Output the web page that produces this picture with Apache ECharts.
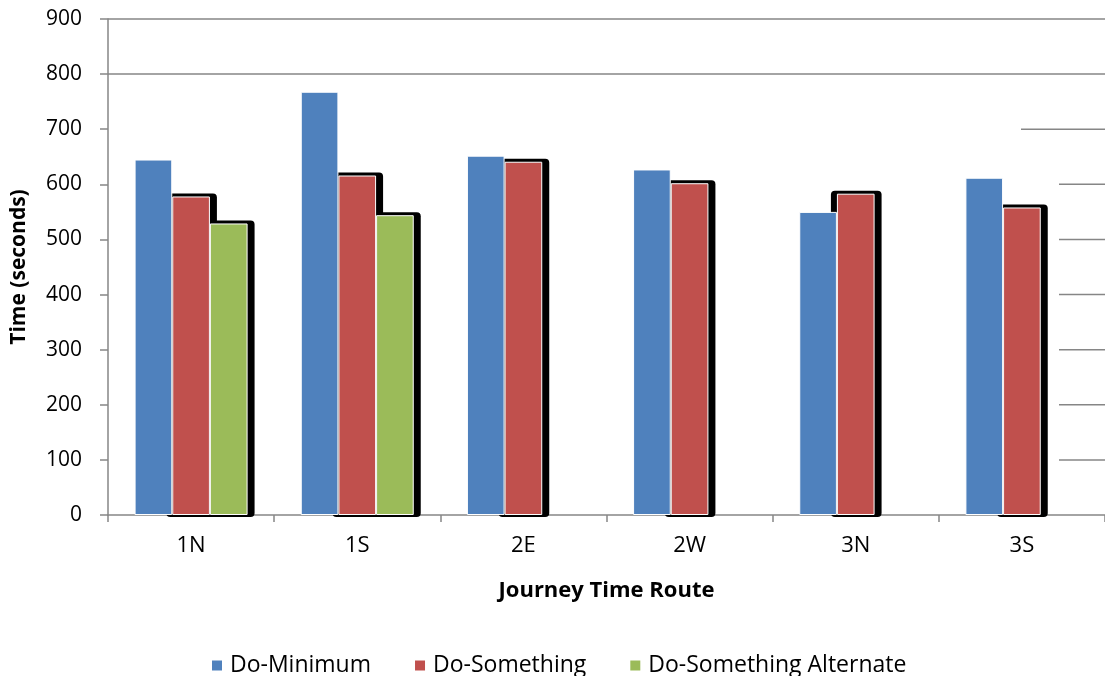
<!DOCTYPE html>
<html>
<head>
<meta charset="utf-8">
<script src="https://cdn.jsdelivr.net/npm/echarts@6/dist/echarts.min.js"></script>
<style>
  html, body { margin: 0; padding: 0; background: #fff; }
  #chart { width: 1105px; height: 676px; }
</style>
</head>
<body>
<div id="chart"></div>
<script>
// Journey times per route (seconds)
const routes = ['1N', '1S', '2E', '2W', '3N', '3S'];
const doMinimum = [645, 768, 652, 627, 550, 612];
const doSomething = [578, 616, 641, 602, 583, 558];
const doSomethingAlt = [529, 544, null, null, null, null];
const seriesNames = ['Do-Minimum', 'Do-Something', 'Do-Something Alternate'];
const yTicks = [0, 100, 200, 300, 400, 500, 600, 700, 800, 900];

const colors = ['#4F81BD', '#C0504D', '#9BBB59'];
const FONT = 'Open Sans';
const CAT_GAP = 0.32;
const seriesData = [doMinimum, doSomething, doSomethingAlt];

const chart = echarts.init(document.getElementById('chart'), null, { renderer: 'canvas' });

// Solid drop shadow behind a series' bars, sharing the bar slot layout
function shadowSeries(idx) {
  return {
    type: 'custom',
    z: 1,
    silent: true,
    encode: { x: 0, y: 1 },
    data: seriesData[idx].map((v, i) => [i, v == null ? '-' : v]),
    renderItem: function (params, api) {
      const v = api.value(1);
      if (v === '-' || v == null || isNaN(v)) return null;
      const cat = api.value(0);
      const base = api.coord([cat, 0]);
      const top = api.coord([cat, v]);
      const band = api.size([1, 0])[0];
      const w = band * (1 - CAT_GAP) / 3;
      const x = base[0] - 1.5 * w + idx * w;
      return {
        type: 'rect',
        shape: { x: x - 6, y: top[1] - 3, width: w + 13, height: base[1] - top[1] + 5, r: 4 },
        style: { fill: '#000' }
      };
    }
  };
}

const barSeries = seriesNames.map((name, idx) => ({
  name: name,
  type: 'bar',
  z: 2,
  barGap: '0%',
  barCategoryGap: (CAT_GAP * 100) + '%',
  data: seriesData[idx].map(v => (v == null ? '-' : v)),
  itemStyle: { color: colors[idx], borderColor: '#ffffff', borderWidth: 1 }
}));

// Only the upper grid lines run across the whole plot
const gridColors = yTicks.map(t => (t >= 800 ? '#868686' : 'rgba(0,0,0,0)'));

const option = {
  animation: false,
  backgroundColor: '#ffffff',
  color: colors,
  textStyle: { fontFamily: FONT },
  grid: { left: 108, right: 0, top: 19, bottom: 161, containLabel: false, outerBoundsMode: 'none' },
  legend: {
    data: seriesNames,
    top: 649,
    left: 205,
    icon: 'rect',
    itemWidth: 12,
    itemHeight: 12,
    itemGap: 42,
    textStyle: { fontFamily: FONT, fontSize: 23, color: '#000', padding: [0, 0, 0, 2] }
  },
  xAxis: {
    type: 'category',
    data: routes,
    name: 'Journey Time Route',
    nameLocation: 'middle',
    nameGap: 65,
    nameTextStyle: { fontFamily: FONT, fontSize: 22, fontWeight: 'bold', color: '#000' },
    axisLine: { lineStyle: { color: '#868686', width: 1.5 } },
    axisTick: { show: true, length: 7, lineStyle: { color: '#868686', width: 1.5 } },
    axisLabel: { margin: 20, fontFamily: FONT, fontSize: 22, color: '#000' },
    splitLine: { show: false }
  },
  yAxis: {
    type: 'value',
    min: yTicks[0],
    max: yTicks[yTicks.length - 1],
    interval: 100,
    name: 'Time (seconds)',
    nameLocation: 'middle',
    nameGap: 78,
    nameTextStyle: { fontFamily: FONT, fontSize: 21, fontWeight: 'bold', color: '#000' },
    axisLine: { show: true, lineStyle: { color: '#868686', width: 1.5 } },
    axisTick: { show: true, length: 8, lineStyle: { color: '#868686', width: 1.5 } },
    axisLabel: { margin: 26, fontFamily: FONT, fontSize: 21, color: '#000' },
    splitLine: { show: true, lineStyle: { color: gridColors, width: 1.5 } }
  },
  series: [shadowSeries(1), shadowSeries(2)].concat(barSeries)
};

chart.setOption(option);

// Short grid-line stubs at the right edge of the plot
const rightEdge = chart.convertToPixel({ xAxisIndex: 0 }, routes.length - 1) +
  (chart.convertToPixel({ xAxisIndex: 0 }, 1) - chart.convertToPixel({ xAxisIndex: 0 }, 0)) / 2;
const stubs = [];
yTicks.forEach(t => {
  if (t === 0 || t >= 800) return;
  const y = chart.convertToPixel({ yAxisIndex: 0 }, t);
  const len = t === 700 ? 84 : 46;
  stubs.push({
    type: 'line',
    z: 0,
    silent: true,
    shape: { x1: rightEdge - len, y1: y, x2: rightEdge, y2: y },
    style: { stroke: '#868686', lineWidth: 1.5 }
  });
});
chart.setOption({ graphic: stubs });
</script>
</body>
</html>
